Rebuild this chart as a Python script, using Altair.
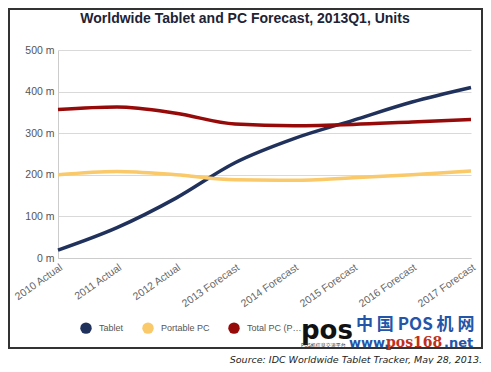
import altair as alt
import pandas as pd

years = ["2010 Actual", "2011 Actual", "2012 Actual", "2013 Forecast",
         "2014 Forecast", "2015 Forecast", "2016 Forecast", "2017 Forecast"]
series = ["Tablet", "Portable PC", "Total PC (Portable + Desktop)"]
tablet = [19, 73, 144, 229, 287, 331, 375, 410]
portable = [200, 208, 200, 188, 187, 193, 200, 209]
total_pc = [357, 363, 348, 322, 318, 321, 327, 333]
colors = ["#20315c", "#f9c96a", "#960a0a"]
y_ticks = [0, 100, 200, 300, 400, 500]

rows = []
for name, vals in zip(series, [tablet, portable, total_pc]):
    for yr, v in zip(years, vals):
        rows.append({"year": yr, "series": name, "value": v})
df = pd.DataFrame(rows)

W, H = 413, 208
FONT = "Liberation Sans"


def txt(text, x, y, size, color, weight="normal", style="normal", align="left",
        font=FONT, baseline="alphabetic"):
    return alt.Chart(pd.DataFrame({"t": [text]})).mark_text(
        text=text, fontSize=size, color=color, fontWeight=weight, fontStyle=style,
        align=align, baseline=baseline, font=font
    ).encode(x=alt.value(x), y=alt.value(y))


one = pd.DataFrame({"a": [0]})

border = alt.Chart(one).mark_rect(fill="transparent", stroke="#333333",
                                  strokeWidth=2).encode(
    x=alt.value(-49), x2=alt.value(424), y=alt.value(-41), y2=alt.value(298)
)

x_enc = alt.X("year:N", sort=years, title=None,
              scale=alt.Scale(type="point", padding=0),
              axis=alt.Axis(labelAngle=325, labelAlign="right", labelBaseline="top",
                            labelColor="#666666", labelFontSize=10.5, labelFont=FONT,
                            ticks=False, domainColor="#cccccc", labelPadding=4,
                            grid=False))
y_enc = alt.Y("value:Q", title=None,
              scale=alt.Scale(domain=[0, 500], nice=False),
              axis=alt.Axis(values=y_ticks, labelExpr="datum.value + ' m'",
                            labelColor="#555555", labelFontSize=10.5, labelFont=FONT,
                            ticks=False, domainColor="#cccccc", gridColor="#d9d9d9",
                            labelPadding=4))
color_scale = alt.Scale(domain=series, range=colors)

lines = alt.Chart(df).mark_line(strokeWidth=3.5, interpolate="monotone").encode(
    x=x_enc, y=y_enc,
    color=alt.Color("series:N", scale=color_scale, title=None, legend=None),
)

legend_pts = alt.Chart(df).mark_circle(size=0, opacity=1).encode(
    x=x_enc, y=y_enc,
    color=alt.Color("series:N", scale=color_scale, title=None,
                    legend=alt.Legend(orient="none", direction="horizontal",
                                      legendX=22, legendY=272, padding=0,
                                      symbolType="circle", symbolSize=130,
                                      symbolStrokeWidth=0, symbolOpacity=1,
                                      labelFontSize=9,
                                      labelColor="#555555", labelFont=FONT,
                                      labelOffset=7, columnPadding=18,
                                      labelLimit=58)),
)

wm_bg = alt.Chart(one).mark_rect(fill="white").encode(
    x=alt.value(243), x2=alt.value(423), y=alt.value(262), y2=alt.value(296)
)

title = txt("Worldwide Tablet and PC Forecast, 2013Q1, Units", 187, -27, 14,
            "#1e2336", weight="bold", align="center")
source = txt("Source: IDC Worldwide Tablet Tracker, May 28, 2013.", 424, 313, 9.5,
             "#222222", style="italic", align="right", font="DejaVu Sans")

wm_pos = txt("pos", 243, 289, 26, "#111111", weight="bold", font="DejaVu Sans")
wm_cn = txt("中 国 POS 机 网", 298, 280, 17, "#2356a8", weight="bold",
            font="Noto Sans CJK SC")
wm_www = txt("www.", 291, 297, 13, "#2356a8", weight="bold", font="DejaVu Sans")
wm_num = txt("pos168", 328, 297, 14, "#c0301e", weight="bold", font="DejaVu Serif")
wm_net = txt(".net", 386, 297, 13, "#2356a8", weight="bold", font="DejaVu Sans")
wm_small = txt("POS机信息交流平台", 243, 297, 5, "#333333", font="Noto Sans CJK SC")

chart = alt.layer(
    border, lines, legend_pts, wm_bg, title, source, wm_pos, wm_cn, wm_www, wm_num,
    wm_net, wm_small
).resolve_legend(color="independent").properties(
    width=W, height=H,
    autosize=alt.AutoSizeParams(type="none"),
    padding={"left": 50, "top": 42, "right": 12, "bottom": 106},
).configure_view(strokeWidth=0)

chart.save("out.html", embed_options={"renderer": "svg", "actions": False})
